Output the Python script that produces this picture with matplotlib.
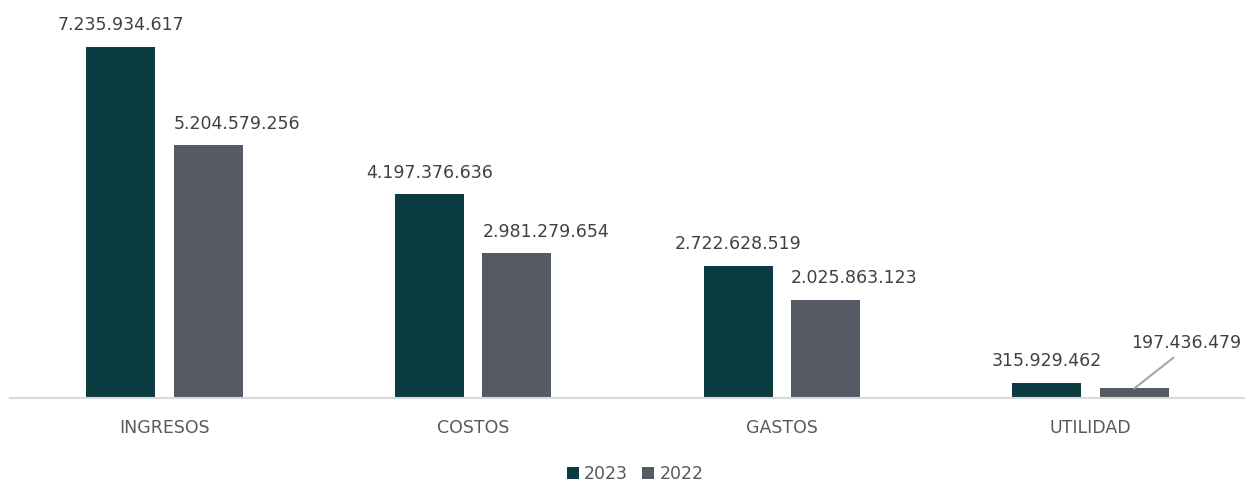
import matplotlib
matplotlib.use('Agg')
import matplotlib.pyplot as plt
import numpy as np

categories = ['INGRESOS', 'COSTOS', 'GASTOS', 'UTILIDAD']
values_2023 = [7235934617, 4197376636, 2722628519, 315929462]
values_2022 = [5204579256, 2981279654, 2025863123, 197436479]
series_names = ['2023', '2022']


def fmt(v):
    return f'{v:,}'.replace(',', '.')


plt.rcParams['font.family'] = ['DejaVu Sans']

fig = plt.figure(figsize=(12.45, 4.83), dpi=100)
ax = fig.add_axes([10 / 1245, 85 / 483, 1235 / 1245, 398 / 483])

c23 = '#0a3c42'
c22 = '#555a64'
txt = '#404040'

x = np.arange(len(categories))
w = 0.223
off = 0.1416

b1 = ax.bar(x - off, values_2023, w, color=c23, label=series_names[0])
b2 = ax.bar(x + off, values_2022, w, color=c22, label=series_names[1])

ax.set_xlim(-0.5, len(categories) - 0.5)
ax.set_ylim(0, 8.2e9)

fs = 12.5
for xi, v in zip(x, values_2023):
    ax.annotate(fmt(v), (xi - off, v), xytext=(0, 9), textcoords='offset points',
                ha='center', va='bottom', fontsize=fs, color=txt)
for i, (xi, v) in enumerate(zip(x, values_2022)):
    if i == len(categories) - 1:
        # small bar: label pushed up-right with a leader line
        ax.annotate(fmt(v), (xi + off, v), xytext=(37, 26), textcoords='offset points',
                    ha='center', va='bottom', fontsize=fs, color=txt,
                    arrowprops=dict(arrowstyle='-', color='#a6a6a6', lw=1.5,
                                    relpos=(0.45, 0.0), shrinkA=3, shrinkB=0))
    else:
        ax.annotate(fmt(v), (xi + off - w / 2, v), xytext=(0, 9), textcoords='offset points',
                    ha='left', va='bottom', fontsize=fs, color=txt)

ax.set_xticks(x)
ax.set_xticklabels(categories, fontsize=fs, color='#595959')
ax.tick_params(axis='x', length=0, pad=15)
ax.set_yticks([])
for s in ['top', 'left', 'right']:
    ax.spines[s].set_visible(False)
ax.spines['bottom'].set_color('#d9d9d9')
ax.spines['bottom'].set_linewidth(1.5)

fig.legend(loc='center', bbox_to_anchor=(0.51, 1 - 474 / 483), ncol=2, frameon=False,
           fontsize=fs, handlelength=0.7, handleheight=0.7, handletextpad=0.3,
           columnspacing=0.8, labelcolor='#595959', borderpad=0.1)

fig.savefig('out.png', dpi=100)
